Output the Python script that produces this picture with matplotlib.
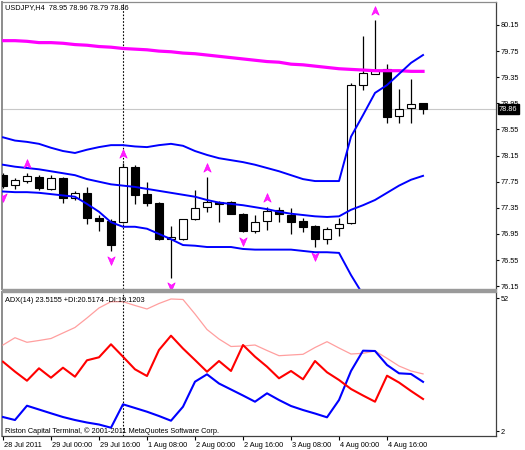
import numpy as np
import pandas as pd
import matplotlib
matplotlib.use("Agg")
import matplotlib.pyplot as plt
import matplotlib.transforms as mtransforms
from matplotlib.path import Path
from matplotlib.patches import Rectangle

# USDJPY H4 bars, 28 Jul 2011 08:00 .. 5 Aug 2011 04:00
opens = [77.85, 77.70, 77.76, 77.82, 77.64, 77.81, 77.50, 77.58, 77.19, 77.15,
         77.13, 77.98, 77.56, 77.42, 76.87, 76.87, 77.18, 77.36, 77.44, 77.44,
         77.26, 77.00, 77.15, 77.32, 77.24, 77.15, 77.07, 76.87, 77.04, 77.12,
         79.23, 79.40, 79.48, 78.76, 78.88, 78.95]
highs = [77.88, 77.81, 77.88, 77.85, 77.85, 77.82, 77.61, 77.67, 77.24, 77.18,
         78.04, 78.01, 77.75, 77.44, 77.07, 77.18, 77.62, 77.82, 77.45, 77.45,
         77.27, 77.24, 77.36, 77.36, 77.35, 77.19, 77.08, 77.06, 77.19, 79.26,
         79.98, 80.23, 79.55, 79.17, 79.32, 78.96]
lows = [77.65, 77.64, 77.73, 77.62, 77.62, 77.42, 77.47, 77.10, 77.00, 76.69,
        77.12, 77.41, 77.38, 76.86, 76.28, 76.86, 77.16, 77.29, 77.13, 77.26,
        76.98, 76.96, 77.01, 77.13, 76.95, 76.98, 76.75, 76.80, 76.92, 77.10,
        79.16, 79.40, 78.65, 78.65, 78.65, 78.79]
closes = [77.69, 77.78, 77.84, 77.65, 77.81, 77.50, 77.58, 77.19, 77.15, 76.78,
          77.98, 77.55, 77.42, 76.87, 76.90, 77.18, 77.35, 77.44, 77.41, 77.26,
          77.00, 77.13, 77.30, 77.26, 77.13, 77.06, 76.87, 77.03, 77.10, 79.23,
          79.42, 79.46, 78.74, 78.86, 78.94, 78.86]

# slow moving average (magenta)
ma_slow = [79.91, 79.91, 79.90, 79.88, 79.88, 79.87, 79.85, 79.84, 79.82, 79.81,
           79.79, 79.78, 79.77, 79.75, 79.74, 79.72, 79.71, 79.69, 79.67, 79.65,
           79.63, 79.61, 79.59, 79.58, 79.55, 79.54, 79.52, 79.50, 79.48, 79.47,
           79.46, 79.45, 79.45, 79.45, 79.44, 79.44]

# bands (blue)
bb_upper = [78.43, 78.38, 78.36, 78.33, 78.27, 78.22, 78.19, 78.24, 78.28, 78.31,
            78.31, 78.29, 78.28, 78.31, 78.33, 78.30, 78.22, 78.16, 78.11, 78.08,
            78.05, 78.01, 77.96, 77.91, 77.85, 77.79, 77.76, 77.76, 77.76, 78.44,
            78.77, 79.11, 79.23, 79.40, 79.57, 79.69]
bb_middle = [78.01, 77.98, 77.96, 77.94, 77.91, 77.88, 77.85, 77.79, 77.75, 77.71,
             77.69, 77.67, 77.64, 77.61, 77.58, 77.55, 77.52, 77.47, 77.43, 77.41,
             77.39, 77.36, 77.33, 77.29, 77.26, 77.24, 77.22, 77.21, 77.22, 77.32,
             77.39, 77.47, 77.58, 77.69, 77.78, 77.84]
bb_lower = [77.60, 77.59, 77.59, 77.58, 77.56, 77.54, 77.52, 77.41, 77.29, 77.13,
            77.06, 77.06, 77.03, 76.95, 76.87, 76.78, 76.77, 76.75, 76.75, 76.75,
            76.72, 76.71, 76.71, 76.71, 76.71, 76.69, 76.67, 76.67, 76.66, 76.32,
            76.02, 75.83, 75.92, 75.97, 75.99, 75.99]

# fractals (bar indices)
up_fractals = [2, 10, 17, 22, 31]
down_fractals = [0, 9, 14, 20, 26]

# ADX(14)
adx = [34.40, 37.15, 35.42, 36.10, 36.85, 38.93, 41.00, 44.58, 48.35, 50.72,
       50.72, 49.29, 47.97, 50.04, 51.74, 51.55, 46.08, 40.24, 36.66, 33.84,
       34.03, 34.40, 32.33, 30.37, 30.64, 30.90, 33.46, 35.65, 33.27, 31.01,
       31.28, 32.14, 29.39, 26.49, 24.61, 23.52]
plus_di = [7.27, 6.14, 11.53, 10.10, 8.67, 7.27, 6.14, 5.20, 4.45, 3.24,
           12.06, 10.67, 9.27, 7.65, 5.88, 11.15, 20.58, 23.36, 19.90, 17.64,
           15.38, 13.04, 16.20, 13.68, 11.42, 9.91, 8.59, 7.16, 13.68, 24.61,
           32.26, 32.14, 26.87, 23.74, 23.48, 20.52]
minus_di = [28.11, 24.38, 20.95, 25.62, 22.08, 25.85, 22.46, 28.64, 29.77, 34.67,
            30.00, 25.25, 22.72, 32.52, 37.91, 33.08, 28.75, 24.34, 28.37, 24.61,
            34.40, 30.00, 26.23, 21.86, 24.61, 21.48, 28.37, 24.12, 21.22, 17.82,
            15.38, 13.04, 22.84, 20.27, 17.07, 14.06]

price_ticks = [80.15, 79.75, 79.35, 78.95, 78.55, 78.15, 77.75, 77.35, 76.95, 76.55, 76.15]
adx_ticks = [52, 2]
last_price = 78.86

adx_text = "ADX(14) 23.5155 +DI:20.5174 -DI:19.1203"
copyright_text = "Riston Capital Terminal, \u00a9 2001-2011 MetaQuotes Software Corp."

times = pd.date_range("2011-07-28 08:00", "2011-08-05 04:00", freq="4h")
times = times[times.dayofweek < 5]
n = len(times)
x = np.arange(n)

plt.rcParams['font.family'] = ['Liberation Sans', 'DejaVu Sans']
FS = 5.3

W, H = 525, 450
fig = plt.figure(figsize=(W / 100, H / 100), dpi=100)
fig.patch.set_facecolor('white')


def box(x0, y0, x1, y1):
    return [x0 / W, 1 - y1 / H, (x1 - x0) / W, (y1 - y0) / H]


ax = fig.add_axes(box(2, 2, 496, 289))
ax2 = fig.add_axes(box(2, 292, 496, 436))

# separator between the panels
fig.patches.append(Rectangle((2 / W, 1 - 292 / H), 494 / W, 3 / H,
                             transform=fig.transFigure, color='#9a9a9a', zorder=5))

# ---- main panel ----
ax.axhline(last_price, color='#c8c8c8', lw=0.8, zorder=0.5)

o = np.array(opens)
c = np.array(closes)
ax.vlines(x, lows, highs, color='black', lw=0.9, zorder=2)
up = c >= o
bottoms = np.minimum(o, c)
heights = np.maximum(np.abs(c - o), 0.005)
ax.bar(x[up], heights[up], bottom=bottoms[up], width=0.62, color='white',
       edgecolor='black', linewidth=0.8, zorder=3)
ax.bar(x[~up], heights[~up], bottom=bottoms[~up], width=0.62, color='black',
       edgecolor='black', linewidth=0.8, zorder=3)

ax.plot(x, ma_slow, color='#ff00ff', lw=2.3, zorder=4)
for band in (bb_upper, bb_middle, bb_lower):
    ax.plot(x, band, color='#0000ff', lw=1.4, zorder=4)

up_marker = Path([(0, 1), (0.75, -0.75), (0, -0.25), (-0.75, -0.75), (0, 1)],
                 [Path.MOVETO, Path.LINETO, Path.LINETO, Path.LINETO, Path.CLOSEPOLY])
down_marker = Path([(0, -1), (0.75, 0.75), (0, 0.25), (-0.75, 0.75), (0, -1)],
                   [Path.MOVETO, Path.LINETO, Path.LINETO, Path.LINETO, Path.CLOSEPOLY])
tr_up = mtransforms.offset_copy(ax.transData, fig=fig, y=6.3, units='points')
tr_dn = mtransforms.offset_copy(ax.transData, fig=fig, y=-6.3, units='points')
ax.plot(up_fractals, [highs[i] for i in up_fractals], ls='none', marker=up_marker,
        ms=7, color='#ff22ff', mec='#ff00ff', mew=0.5, transform=tr_up, zorder=5)
ax.plot(down_fractals, [lows[i] for i in down_fractals], ls='none', marker=down_marker,
        ms=7, color='#ff22ff', mec='#ff00ff', mew=0.5, transform=tr_dn, zorder=5)

# week separator
seps = [i for i in range(1, n) if times[i].dayofweek < times[i - 1].dayofweek]
for s in seps:
    ax.axvline(s, color='black', lw=0.8, ls=(0, (1.5, 1.5)), zorder=1)
    ax2.axvline(s, color='black', lw=0.8, ls=(0, (1.5, 1.5)), zorder=1)

ax.set_xlim(-0.08, 41.08)
ax.set_ylim(76.107, 80.502)
ax.yaxis.tick_right()
ax.set_yticks(price_ticks)
ax.set_yticklabels([f"{v:.2f}" for v in price_ticks])
ax.tick_params(axis='y', direction='out', length=2.5, width=0.8, pad=1, labelsize=FS)
ax.tick_params(axis='x', length=0, labelbottom=False)

ax.text(3 / 494, 1 - 5.5 / 287, f"USDJPY,H4  {opens[-1]:.2f} {highs[-1]:.2f} {lows[-1]:.2f} {closes[-1]:.2f}",
        transform=ax.transAxes, ha='left', va='center', fontsize=FS)

tr_box = mtransforms.offset_copy(mtransforms.blended_transform_factory(ax.transAxes, ax.transData),
                                 fig=fig, x=3, units='dots')
ax.text(1.0, last_price, f"{last_price:.2f}", transform=tr_box, ha='left', va='center',
        color='white', fontsize=FS, clip_on=False,
        bbox=dict(boxstyle='square,pad=0.2', fc='black', ec='black'))

# ---- ADX panel ----
ax2.plot(x, adx, color='#ff9f9f', lw=0.9, zorder=3)
ax2.plot(x, plus_di, color='#0000ff', lw=1.5, zorder=3)
ax2.plot(x, minus_di, color='#ff0000', lw=1.5, zorder=4)

ax2.set_xlim(-0.08, 41.08)
ax2.set_ylim(0.12, 54.37)
ax2.yaxis.tick_right()
ax2.set_yticks(adx_ticks)
ax2.set_yticklabels([str(v) for v in adx_ticks])
ax2.tick_params(axis='y', direction='out', length=2.5, width=0.8, pad=1, labelsize=FS)

tick_idx = list(range(0, n, 4))
labels = []
for i in tick_idx:
    t = times[i]
    labels.append(f"{t.day} {t:%b %Y}" if i == 0 else f"{t.day} {t:%b %H:%M}")
ax2.set_xticks(tick_idx)
ax2.set_xticklabels(labels)
ax2.tick_params(axis='x', direction='out', length=3, width=0.8, pad=1.5, labelsize=FS)
shift = mtransforms.ScaledTranslation(1 / 100, 0, fig.dpi_scale_trans)
for lab in ax2.get_xticklabels():
    lab.set_ha('left')
    lab.set_transform(lab.get_transform() + shift)

ax2.text(3 / 494, 1 - 8 / 144, adx_text, transform=ax2.transAxes, ha='left', va='center', fontsize=FS)
ax2.text(3 / 494, 5 / 144, copyright_text, transform=ax2.transAxes, ha='left', va='center', fontsize=FS)

for a in (ax, ax2):
    a.set_facecolor('white')
    a.spines['left'].set_color('#8c8c8c')
    a.spines['left'].set_linewidth(1.4)
    a.spines['right'].set_color('#404040')
    a.spines['right'].set_linewidth(0.9)
ax.spines['top'].set_color('#8c8c8c')
ax.spines['top'].set_linewidth(0.9)
ax.spines['bottom'].set_visible(False)
ax2.spines['top'].set_visible(False)
ax2.spines['bottom'].set_color('#404040')
ax2.spines['bottom'].set_linewidth(0.9)

fig.savefig("out.png", dpi=100, facecolor='white')
